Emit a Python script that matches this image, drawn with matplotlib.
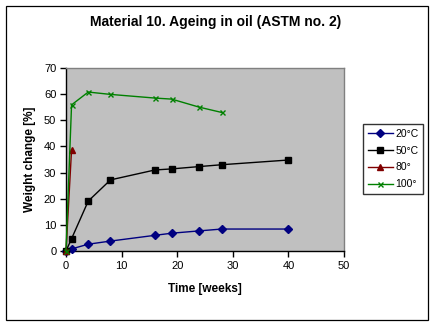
import matplotlib
matplotlib.use("Agg")
import matplotlib.pyplot as plt
from matplotlib.patches import Rectangle

plt.rcParams['font.family'] = ['Liberation Sans', 'DejaVu Sans']

# Weight change measurements (weeks, %)
weeks_20 = [0, 1, 4, 8, 16, 19, 24, 28, 40]
change_20 = [0, 0.8, 2.6, 3.8, 6.0, 6.8, 7.7, 8.4, 8.4]

weeks_50 = [0, 1, 4, 8, 16, 19, 24, 28, 40]
change_50 = [0, 4.7, 19.1, 27.2, 31.0, 31.4, 32.3, 33.0, 34.8]

weeks_80 = [0, 1]
change_80 = [0, 38.7]

weeks_100 = [0, 1, 4, 8, 16, 19, 24, 28]
change_100 = [0, 55.9, 60.8, 59.9, 58.5, 58.1, 55.0, 53.0]

labels = ['20°C', '50°C', '80°', '100°']
x_ticks = [0, 10, 20, 30, 40, 50]
y_ticks = [0, 10, 20, 30, 40, 50, 60, 70]

W, H = 434, 325
fig = plt.figure(figsize=(W / 100, H / 100), dpi=100)
fig.patch.set_facecolor('white')

# outer chart frame
fig.patches.append(Rectangle((5.5 / W, 5.5 / H), 422 / W, 314 / H,
                             transform=fig.transFigure, fill=False,
                             edgecolor='black', linewidth=0.9))

ax = fig.add_axes([66 / W, (H - 251) / H, 278 / W, 183 / H])
ax.set_facecolor('#C0C0C0')

ax.plot(weeks_20, change_20, color='#000080', marker='D', markersize=3.6,
        linewidth=1.0, label=labels[0], clip_on=False, zorder=3)
ax.plot(weeks_50, change_50, color='black', marker='s', markersize=4.6,
        linewidth=1.0, label=labels[1], clip_on=False, zorder=3)
ax.plot(weeks_80, change_80, color='#800000', marker='^', markersize=4.5,
        linewidth=1.0, label=labels[2], clip_on=False, zorder=3)
ax.plot(weeks_100, change_100, color='#008000', marker='x', markersize=3.6,
        markeredgewidth=1.0, linewidth=1.0, label=labels[3], clip_on=False, zorder=3)

ax.set_xlim(0, 50)
ax.set_ylim(0, 70)
ax.set_xticks(x_ticks)
ax.set_yticks(y_ticks)
ax.tick_params(axis='both', direction='out', length=4, width=1.0,
               labelsize=8, color='black', pad=3)

for side in ('top', 'right'):
    ax.spines[side].set_color('#808080')
    ax.spines[side].set_linewidth(1.0)
for side in ('left', 'bottom'):
    ax.spines[side].set_color('black')
    ax.spines[side].set_linewidth(1.0)

ax.set_xlabel('Time [weeks]', fontsize=8.5, fontweight='bold', labelpad=9)
ax.set_ylabel('Weight change [%]', fontsize=8.5, fontweight='bold', labelpad=6)

fig.text(216 / W, 1 - 22 / H, 'Material 10. Ageing in oil (ASTM no. 2)',
         ha='center', va='center', fontsize=10, fontweight='bold')

leg = fig.legend(loc='center', bbox_to_anchor=(393 / W, 1 - 159 / H),
                 fontsize=7.5, frameon=True, fancybox=False, shadow=False,
                 handlelength=2.4, handletextpad=0.25, labelspacing=0.65,
                 borderpad=0.45, borderaxespad=0)
leg.get_frame().set_edgecolor('black')
leg.get_frame().set_linewidth(1.0)

fig.savefig('out.png', dpi=100)
